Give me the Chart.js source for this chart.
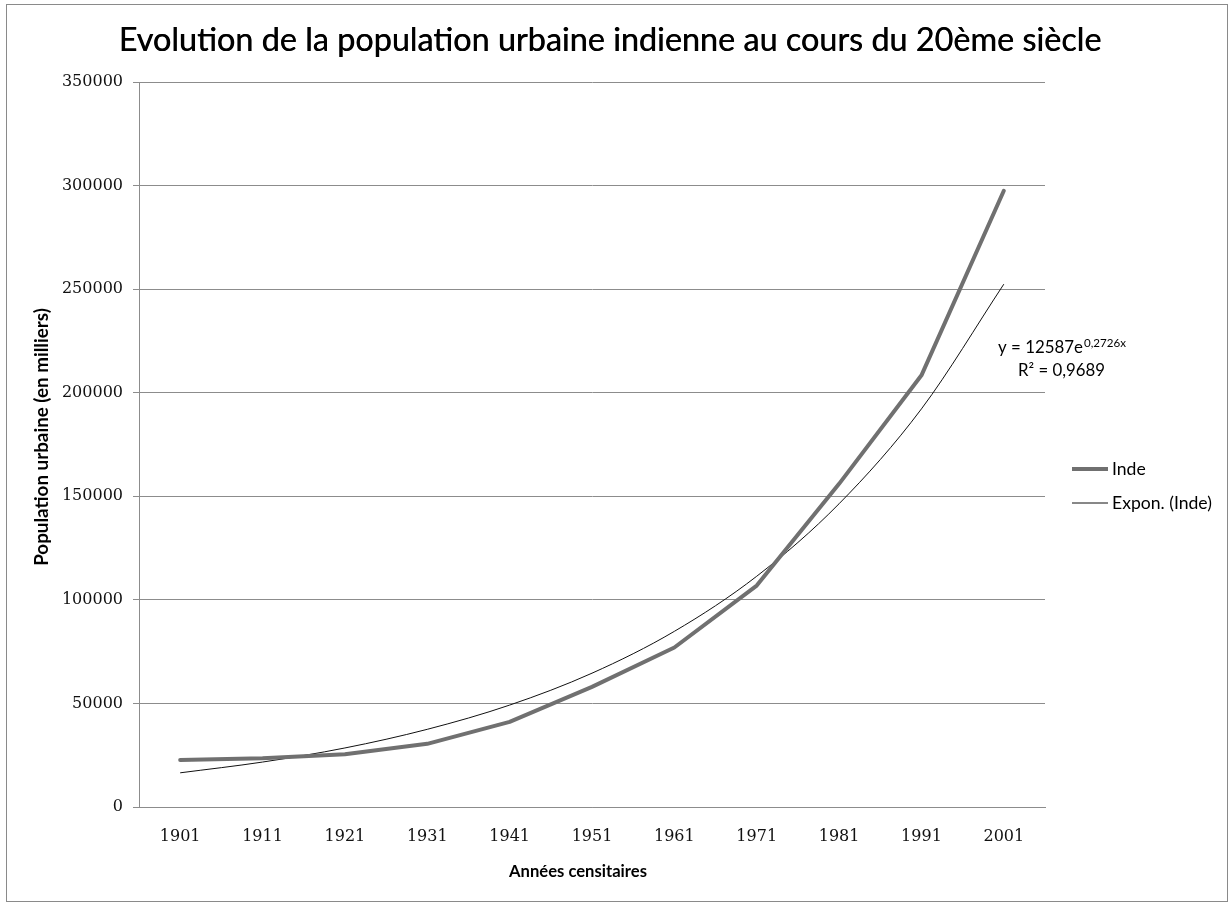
<!DOCTYPE html>
<html>
<head>
<meta charset="utf-8">
<script src="https://cdn.jsdelivr.net/npm/chart.js@4.4.1/dist/chart.umd.min.js"></script>
<style>
  html, body { margin: 0; padding: 0; background: #ffffff; }
  canvas { display: block; }
</style>
</head>
<body>
<canvas id="c" width="1231" height="904"></canvas>
<script>
// ---- data ----
const chartTitle = "Evolution de la population urbaine indienne au cours du 20ème siècle";
const xTitle = "Années censitaires";
const yTitle = "Population urbaine (en milliers)";
const years = ["1901", "1911", "1921", "1931", "1941", "1951", "1961", "1971", "1981", "1991", "2001"];
const indeLabel = "Inde";
const inde = [22700, 23500, 25500, 30500, 41100, 58000, 77000, 106900, 156000, 208400, 297500];
const trendLabel = "Expon. (Inde)";
const trend = [16500, 21700, 28500, 37500, 49200, 64600, 84800, 111400, 146400, 192200, 252400];
const equationMain = "y = 12587e";
const equationExp = "0,2726x";
const rSquared = "R² = 0,9689";
const yMin = 0, yMax = 350000, yStep = 50000;

const GRID = '#8c8c8c';
const INDE_COLOR = '#707070';
const TREND_COLOR = '#111111';
const SANS = 'Lato, "Open Sans", sans-serif';
const SERIF = '"DejaVu Serif", serif';

function fitSize(ctx, text, width, weight) {
  ctx.font = weight + ' 100px ' + SANS;
  return 100 * width / ctx.measureText(text).width;
}

const overlay = {
  id: 'overlay',
  afterDraw(chart) {
    const ctx = chart.ctx;
    ctx.save();
    // outer border
    ctx.strokeStyle = '#8a8a8a';
    ctx.lineWidth = 1;
    ctx.strokeRect(6.5, 4.5, 1221, 897);

    ctx.fillStyle = '#000';
    // title
    let s = fitSize(ctx, chartTitle, 983, 'normal');
    ctx.font = 'normal ' + s + 'px ' + SANS;
    ctx.textAlign = 'center';
    ctx.textBaseline = 'middle';
    ctx.fillText(chartTitle, 610, 41);
    ctx.fillText(chartTitle, 610.4, 41);

    // y title
    const ys = fitSize(ctx, yTitle, 258, 'bold');
    ctx.save();
    ctx.translate(42, 437);
    ctx.rotate(-Math.PI / 2);
    ctx.font = 'bold ' + ys + 'px ' + SANS;
    ctx.fillText(yTitle, 0, 0);
    ctx.restore();

    // x title
    const xs = fitSize(ctx, xTitle, 138, 'bold');
    ctx.font = 'bold ' + xs + 'px ' + SANS;
    ctx.fillText(xTitle, 578, 872);

    // legend
    const ds = chart.data.datasets;
    const ls = fitSize(ctx, ds[1].label, 100, 'normal');
    ctx.font = 'normal ' + ls + 'px ' + SANS;
    ctx.textAlign = 'left';
    const legendY = [469, 503];
    ds.forEach((d, i) => {
      ctx.strokeStyle = d.borderColor;
      ctx.lineWidth = d.borderWidth;
      ctx.beginPath();
      ctx.moveTo(1072, legendY[i]);
      ctx.lineTo(1108, legendY[i]);
      ctx.stroke();
      ctx.fillStyle = '#000';
      ctx.fillText(d.label, 1112, legendY[i]);
    });

    // trendline equation
    const es = fitSize(ctx, equationMain, 85, 'normal');
    ctx.font = 'normal ' + es + 'px ' + SANS;
    ctx.fillText(equationMain, 998, 348);
    const mw = ctx.measureText(equationMain).width;
    const ss = fitSize(ctx, equationExp, 42, 'normal');
    ctx.font = 'normal ' + ss + 'px ' + SANS;
    ctx.fillText(equationExp, 998 + mw + 1, 343);
    const rs = fitSize(ctx, rSquared, 87, 'normal');
    ctx.font = 'normal ' + rs + 'px ' + SANS;
    ctx.fillText(rSquared, 1018, 371);
    ctx.restore();
  }
};

new Chart(document.getElementById('c'), {
  type: 'line',
  data: {
    labels: years,
    datasets: [
      { label: indeLabel, data: inde, borderColor: INDE_COLOR, borderWidth: 4,
        pointRadius: 0, tension: 0, fill: false, borderJoinStyle: 'round', borderCapStyle: 'round' },
      { label: trendLabel, data: trend, borderColor: TREND_COLOR, borderWidth: 1,
        pointRadius: 0, cubicInterpolationMode: 'monotone', fill: false }
    ]
  },
  options: {
    responsive: false,
    animation: false,
    devicePixelRatio: 1,
    layout: { padding: { left: 0, top: 82, right: 186, bottom: 0 } },
    plugins: { legend: { display: false }, title: { display: false }, tooltip: { enabled: false } },
    scales: {
      x: {
        offset: true,
        grid: { display: false, drawTicks: false },
        border: { display: true, color: GRID, width: 1 },
        ticks: { color: '#111', font: { family: SERIF, size: 16 }, padding: 20, maxRotation: 0 },
        afterFit(scale) { scale.height = 97; }
      },
      y: {
        min: yMin, max: yMax,
        grid: { color: GRID, lineWidth: 1, tickLength: 6 },
        border: { display: true, color: GRID, width: 1 },
        ticks: { stepSize: yStep, color: '#111', font: { family: SERIF, size: 16 }, padding: 10,
                 callback: v => String(v) },
        afterFit(scale) { scale.width = 139; }
      }
    }
  },
  plugins: [overlay]
});
</script>
</body>
</html>
